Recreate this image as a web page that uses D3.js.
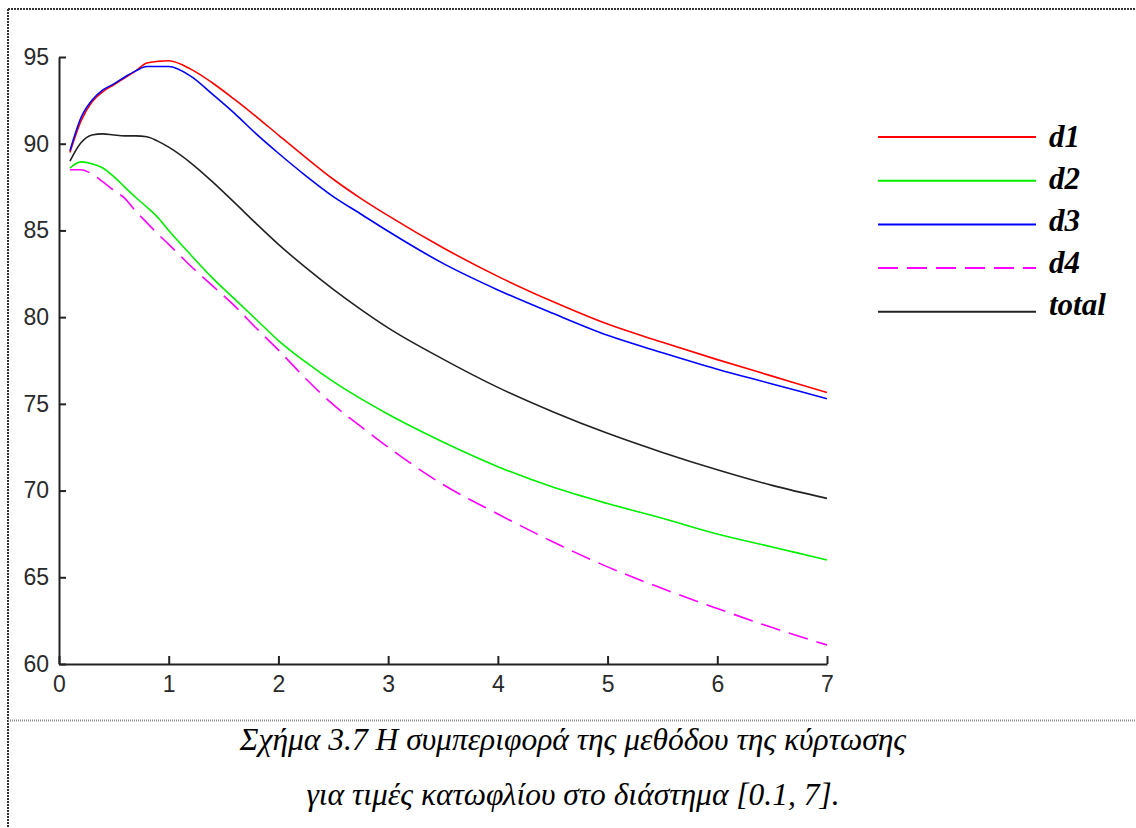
<!DOCTYPE html>
<html>
<head>
<meta charset="utf-8">
<script src="https://cdn.jsdelivr.net/npm/d3@7"></script>
<style>
  html, body { margin: 0; padding: 0; background: #fff; }
  svg { display: block; }
  .serif { font-family: "Liberation Serif", "Times New Roman", "DejaVu Serif", serif; }
</style>
</head>
<body>
<svg id="fig" width="1136" height="828"></svg>
<script>
// Threshold values (x) and accuracy (%) of each channel of the kurtosis method
const thresholds = [0.1, 0.2, 0.3, 0.4, 0.5, 0.6, 0.7, 0.8, 0.9, 1.0, 1.2, 1.4, 1.6, 1.8, 2.0,
                    2.25, 2.5, 2.75, 3.0, 3.5, 4.0, 4.5, 5.0, 5.5, 6.0, 6.5, 7.0];
const d1 = [89.5, 91.3, 92.4, 93.0, 93.4, 93.8, 94.2, 94.65, 94.75, 94.78, 94.3, 93.5, 92.55, 91.55, 90.5,
            89.2, 87.95, 86.85, 85.85, 84.0, 82.35, 80.9, 79.6, 78.55, 77.55, 76.6, 75.65];
const d2 = [88.6, 88.95, 88.85, 88.6, 88.1, 87.5, 86.9, 86.35, 85.75, 85.0, 83.6, 82.25, 81.05, 79.85, 78.65,
            77.4, 76.28, 75.3, 74.4, 72.8, 71.38, 70.2, 69.25, 68.4, 67.5, 66.75, 66.0];
const d3v = [89.6, 91.5, 92.5, 93.1, 93.45, 93.85, 94.2, 94.45, 94.45, 94.45, 93.9, 92.85, 91.75, 90.55, 89.45,
             88.15, 86.95, 85.95, 84.95, 83.1, 81.57, 80.22, 78.95, 77.95, 77.0, 76.15, 75.3];
const d4 = [88.5, 88.5, 88.25, 87.8, 87.3, 86.85, 86.1, 85.45, 84.8, 84.2, 82.95, 81.8, 80.65, 79.35, 78.1,
            76.45, 74.95, 73.7, 72.5, 70.35, 68.65, 67.05, 65.6, 64.35, 63.2, 62.1, 61.1];
const total = [89.0, 90.05, 90.5, 90.57, 90.5, 90.45, 90.45, 90.4, 90.15, 89.8, 88.9, 87.8, 86.6, 85.38, 84.2,
               82.85, 81.6, 80.45, 79.38, 77.58, 75.95, 74.55, 73.3, 72.2, 71.2, 70.3, 69.55];

const seriesNames = ["d1", "d2", "d3", "d4", "total"];
const seriesValues = [d1, d2, d3v, d4, total];
const seriesColors = ["#ff0000", "#00ee00", "#0000ff", "#ff00ff", "#222222"];
const seriesDashes = [null, null, null, "20,9", null];

const xTicks = [0, 1, 2, 3, 4, 5, 6, 7];
const yTicks = [60, 65, 70, 75, 80, 85, 90, 95];

const captionLines = [
  "Σχήμα 3.7 Η συμπεριφορά της μεθόδου της κύρτωσης",
  "για τιμές κατωφλίου στο διάστημα [0.1, 7]."
];

const svg = d3.select("#fig");

// dotted frame of the figure box and the separator above the caption
const frame = svg.append("g");
frame.append("line")
  .attr("x1", 8).attr("x2", 1136).attr("y1", 9).attr("y2", 9)
  .attr("stroke", "#333").attr("stroke-width", 2).attr("stroke-dasharray", "2,1");
frame.append("line")
  .attr("x1", 8).attr("x2", 8).attr("y1", 9).attr("y2", 828)
  .attr("stroke", "#333").attr("stroke-width", 2).attr("stroke-dasharray", "2,1");
frame.append("line")
  .attr("x1", 8).attr("x2", 1136).attr("y1", 720.5).attr("y2", 720.5)
  .attr("stroke", "#8a8a8a").attr("stroke-width", 2).attr("stroke-dasharray", "1,1");

// scales
const x = d3.scaleLinear().domain([0, 7]).range([59, 827]);
const y = d3.scaleLinear().domain([60, 95]).range([664, 57]);

// axes: only left and bottom lines, ticks pointing inward
const axisFont = "'Liberation Sans', Arial, sans-serif";
const gx = svg.append("g").attr("transform", `translate(0,${y(60)})`)
  .call(d3.axisBottom(x).tickValues(xTicks).tickFormat(d3.format("d"))
        .tickSizeInner(-8).tickSizeOuter(0).tickPadding(12));
const gy = svg.append("g").attr("transform", `translate(${x(0)},0)`)
  .call(d3.axisLeft(y).tickValues(yTicks).tickFormat(d3.format("d"))
        .tickSizeInner(-7).tickSizeOuter(0).tickPadding(10));
[gx, gy].forEach(g => {
  g.attr("font-family", null).attr("font-size", null);
  g.select(".domain").attr("stroke", "#222").attr("stroke-width", 2);
  g.selectAll(".tick line").attr("stroke", "#222").attr("stroke-width", 2);
  g.selectAll(".tick text")
    .attr("fill", "#2a2a2a")
    .style("font-family", axisFont)
    .style("font-size", "23px");
});

// curves
const line = d3.line()
  .x((d, i) => x(thresholds[i]))
  .y(d => y(d))
  .curve(d3.curveMonotoneX);

const plot = svg.append("g");
seriesValues.forEach((vals, k) => {
  plot.append("path")
    .datum(vals)
    .attr("d", line)
    .attr("fill", "none")
    .attr("stroke", seriesColors[k])
    .attr("stroke-width", 1.6)
    .attr("stroke-dasharray", seriesDashes[k]);
});

// legend
const legend = svg.append("g");
seriesNames.forEach((name, k) => {
  const ly = 137 + 43.7 * k;
  legend.append("line")
    .attr("x1", 878).attr("x2", 1036).attr("y1", ly).attr("y2", ly)
    .attr("stroke", seriesColors[k]).attr("stroke-width", 2)
    .attr("stroke-dasharray", seriesDashes[k]);
  legend.append("text")
    .attr("class", "serif")
    .attr("x", 1049).attr("y", 146.5 + 42.1 * k)
    .attr("fill", "#000")
    .style("font-style", "italic")
    .style("font-weight", "bold")
    .style("font-size", "31px")
    .text(name);
});

// caption
const caption = svg.append("g");
captionLines.forEach((t, k) => {
  caption.append("text")
    .attr("class", "serif")
    .attr("x", 573).attr("y", 750 + 55 * k)
    .attr("text-anchor", "middle")
    .attr("fill", "#000")
    .style("font-style", "italic")
    .style("font-size", "31.5px")
    .text(t);
});
</script>
</body>
</html>
